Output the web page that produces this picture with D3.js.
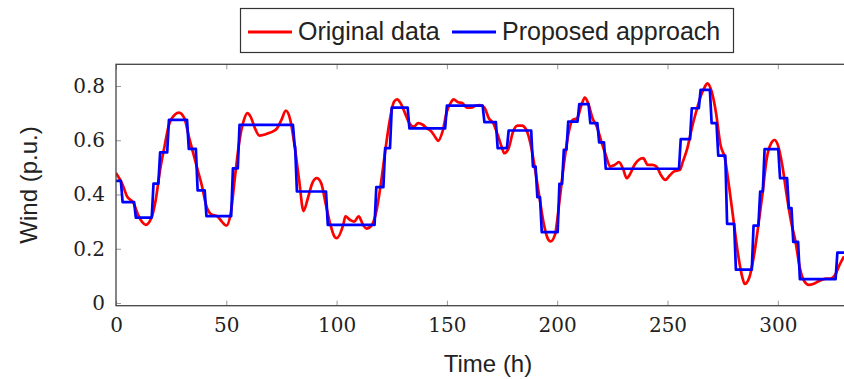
<!DOCTYPE html>
<html>
<head>
<meta charset="utf-8">
<script src="https://cdn.jsdelivr.net/npm/d3@7"></script>
<style>
body{margin:0;background:#fff;}
.tick text{font-family:"DejaVu Serif",serif;}
</style>
</head>
<body>
<div id="chart"></div>
<script>
var w=844;
var h=379;
var plotLeft=116, plotRight=844, plotTop=64.3, plotBottom=305.7;

// original data (hourly wind)
var origTime=[0,3,5,8,10,12,13.5,16,18,20,22,24,27,28.5,31,33,35,37,39,41,43,46,48,50,52,54,56,58,59.5,61,63,65,67,69,71,73,75,77,79,81,83,85,87,89,91,93,95,97,99,100,103,104,106,108,110,112,113.5,116,118,120,122,124,126,127.5,129,131,133,135,137,139,141,143,145,146,148,150,152,153,155,157,159,161,163,165,167,169,171,173,175,176,178,180,182,184,186,188,190,192,194,196,197,199,201,203,205,207,209,211,212.5,214,216,218,220,222,224,226,228,230,231.5,233,235,237,239,241,243,245,247,249,251,253,255.6,257,259,261,263,265,267,268,270,272,274,276,278,280,282,284,285,287,289,291,293,295,297,298.5,300,302,304,306,308,310,312,314,316,318,320,322,324,326,328,330];
var origWind=[0.479,0.436,0.393,0.368,0.325,0.297,0.288,0.313,0.38,0.491,0.577,0.657,0.697,0.702,0.681,0.614,0.552,0.491,0.43,0.356,0.328,0.319,0.30,0.285,0.331,0.47,0.60,0.675,0.70,0.687,0.644,0.617,0.62,0.626,0.632,0.644,0.675,0.709,0.675,0.577,0.454,0.339,0.387,0.442,0.46,0.442,0.368,0.295,0.245,0.239,0.288,0.319,0.307,0.30,0.319,0.288,0.274,0.288,0.337,0.436,0.558,0.669,0.742,0.751,0.737,0.70,0.663,0.65,0.663,0.657,0.644,0.632,0.608,0.598,0.632,0.706,0.742,0.751,0.74,0.737,0.72,0.72,0.727,0.73,0.72,0.681,0.663,0.62,0.571,0.552,0.571,0.632,0.654,0.654,0.638,0.583,0.491,0.387,0.288,0.233,0.227,0.252,0.374,0.509,0.62,0.675,0.681,0.73,0.757,0.737,0.681,0.65,0.595,0.546,0.503,0.509,0.519,0.491,0.46,0.475,0.509,0.528,0.534,0.509,0.509,0.503,0.472,0.454,0.47,0.485,0.491,0.522,0.571,0.644,0.706,0.761,0.798,0.81,0.78,0.70,0.583,0.534,0.424,0.30,0.178,0.092,0.07,0.092,0.166,0.276,0.399,0.534,0.589,0.601,0.583,0.509,0.399,0.30,0.227,0.129,0.08,0.067,0.07,0.078,0.086,0.09,0.09,0.104,0.141,0.172];

// proposed approach (step levels, start hour of each step)
var stepTime=[0,3,9,17,20,24,33,37,41,53,56,81,82,96,118,122,125,133,150,167,173,178,189,191,193,201,203,205,210,215,219,222,256,261,265,270,273,277,281,289,292,294,301,305,307,310,327,330];
var stepWind=[0.45,0.372,0.315,0.44,0.555,0.675,0.568,0.415,0.32,0.496,0.657,0.577,0.411,0.288,0.427,0.571,0.72,0.644,0.728,0.667,0.571,0.636,0.503,0.39,0.261,0.439,0.565,0.669,0.733,0.663,0.592,0.495,0.604,0.718,0.786,0.663,0.543,0.292,0.123,0.285,0.411,0.567,0.46,0.35,0.225,0.088,0.186,0.186];

var xTicks=[0,50,100,150,200,250,300];
var yTicks=[0,0.2,0.4,0.6,0.8];

var svg=d3.select("#chart")
  .append("svg")
  .attr("width",w)
  .attr("height",h);

var x=d3.scaleLinear().domain([0,330]).range([plotLeft,plotRight]);
var y=d3.scaleLinear().domain([-0.01,0.88]).range([plotBottom,plotTop]);

svg.append("clipPath").attr("id","plotclip")
  .append("rect")
  .attr("x",plotLeft).attr("y",plotTop)
  .attr("width",plotRight-plotLeft).attr("height",plotBottom-plotTop);

// ticks (inward, pgfplots style)
var xAxisB=d3.axisBottom(x).tickValues(xTicks).tickSize(-5).tickPadding(12).tickFormat(d3.format("d"));
var xAxisT=d3.axisTop(x).tickValues(xTicks).tickSize(-5).tickFormat("");
var yAxisL=d3.axisLeft(y).tickValues(yTicks).tickSize(-5).tickPadding(11).tickFormat(function(d){return d==0?"0":d3.format(".1f")(d);});

function styleAxis(g){
  g.select(".domain").remove();
  g.selectAll(".tick line").attr("stroke","#999").attr("stroke-width",1);
  g.selectAll(".tick text").attr("fill","#222").style("font-size","20px");
}

svg.append("g").attr("transform","translate(0,"+plotBottom+")").call(xAxisB).call(styleAxis);
svg.append("g").attr("transform","translate(0,"+plotTop+")").call(xAxisT).call(styleAxis);
svg.append("g").attr("transform","translate("+plotLeft+",0)").call(yAxisL).call(styleAxis);

var redLine=d3.line()
  .x(function(d,i){return x(origTime[i]);})
  .y(function(d){return y(d);})
  .curve(d3.curveMonotoneX);

// each level held until one hour before the next step, then a linear ramp
var bluePts=[];
stepTime.forEach(function(t,i){
  bluePts.push([t,stepWind[i]]);
  if(i<stepTime.length-1) bluePts.push([stepTime[i+1]-0.8,stepWind[i]]);
});
var blueLine=d3.line()
  .x(function(d){return x(d[0]);})
  .y(function(d){return y(d[1]);});

var plot=svg.append("g").attr("clip-path","url(#plotclip)");

plot.append("path")
  .attr("d",redLine(origWind))
  .attr("fill","none")
  .attr("stroke","#ff0000")
  .attr("stroke-width",2.7)
  .attr("stroke-linejoin","round");

plot.append("path")
  .attr("d",blueLine(bluePts))
  .attr("fill","none")
  .attr("stroke","#0000ff")
  .attr("stroke-width",2.7)
  .attr("stroke-linejoin","round");

// frame
svg.append("rect")
  .attr("x",plotLeft).attr("y",plotTop)
  .attr("width",plotRight-plotLeft+2).attr("height",plotBottom-plotTop)
  .attr("fill","none")
  .attr("stroke","#444")
  .attr("stroke-width",1.3);

// axis labels
svg.append("text")
  .attr("x",488).attr("y",372)
  .attr("text-anchor","middle")
  .style("font-family","Liberation Sans, sans-serif")
  .style("font-size","24px")
  .attr("fill","#222")
  .text("Time (h)");

svg.append("text")
  .attr("transform","translate(37,185) rotate(-90)")
  .attr("text-anchor","middle")
  .style("font-family","Liberation Sans, sans-serif")
  .style("font-size","24px")
  .attr("fill","#222")
  .text("Wind (p.u.)");

// legend
var legend=svg.append("g");
legend.append("rect")
  .attr("x",240.5).attr("y",8.5)
  .attr("width",493).attr("height",44)
  .attr("fill","#fff")
  .attr("stroke","#333")
  .attr("stroke-width",1.2);

var legItems=[{name:"Original data",color:"#ff0000",x0:248},{name:"Proposed approach",color:"#0000ff",x0:452}];
legend.selectAll("line")
  .data(legItems)
  .enter()
  .append("line")
  .attr("x1",function(d){return d.x0;})
  .attr("x2",function(d){return d.x0+44;})
  .attr("y1",32).attr("y2",32)
  .attr("stroke",function(d){return d.color;})
  .attr("stroke-width",3.2);

legend.selectAll("text")
  .data(legItems)
  .enter()
  .append("text")
  .attr("x",function(d){return d.x0+50;})
  .attr("y",40)
  .style("font-family","Liberation Sans, sans-serif")
  .style("font-size","25px")
  .attr("fill","#222")
  .text(function(d){return d.name;});
</script>
</body>
</html>
